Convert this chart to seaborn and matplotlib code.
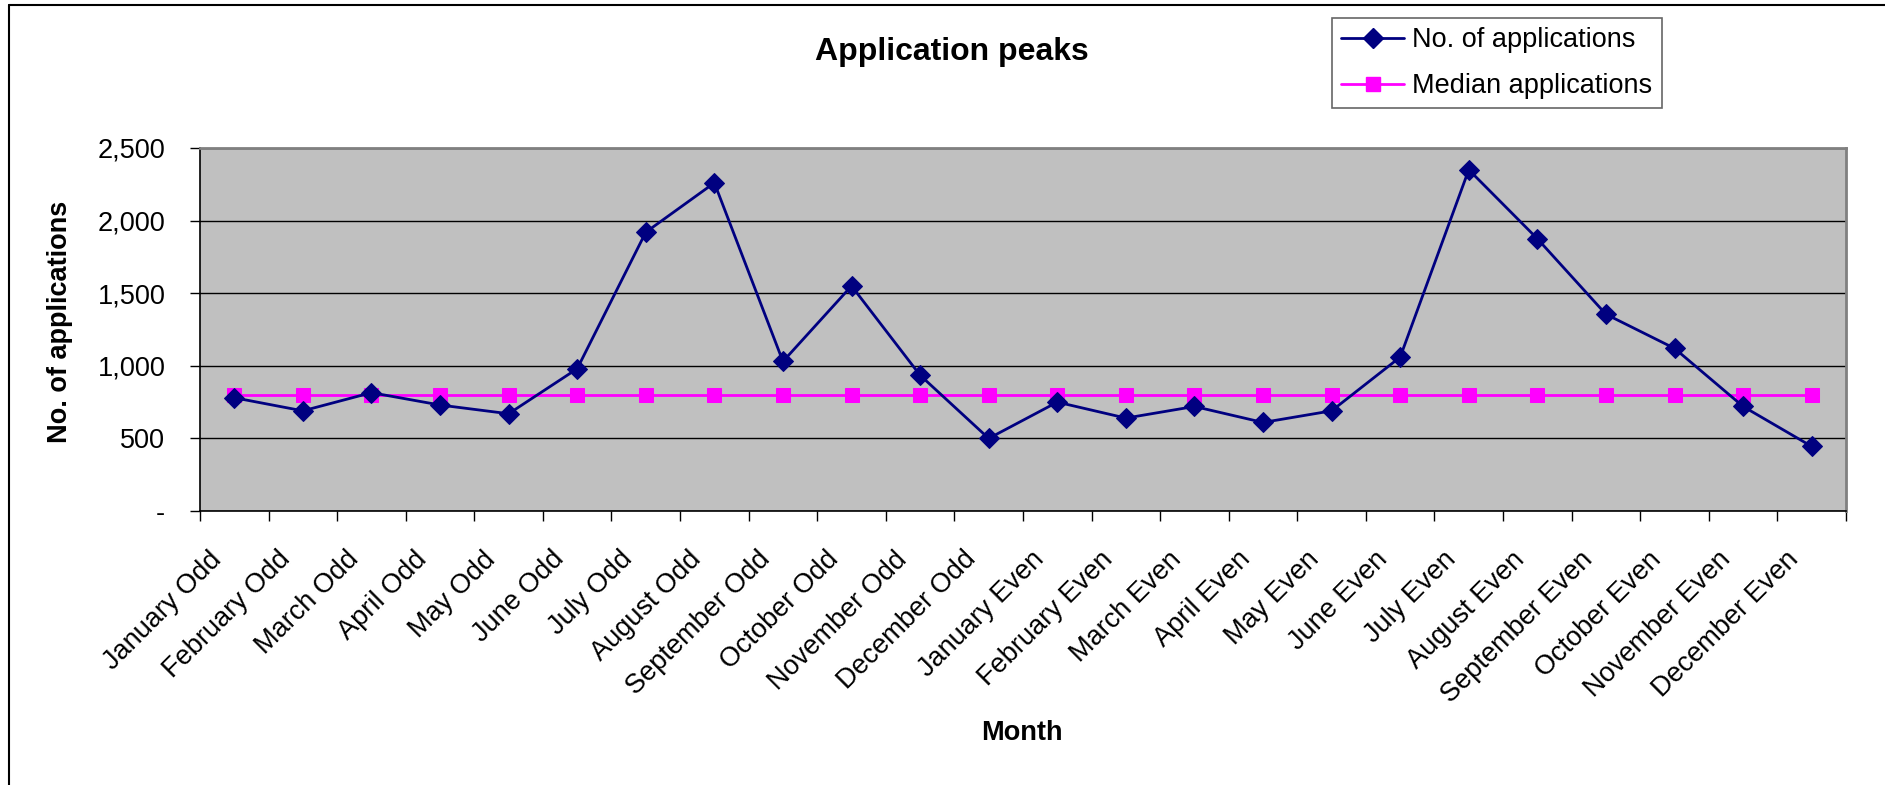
import numpy as np
import pandas as pd
import seaborn as sns
import matplotlib.pyplot as plt
from matplotlib.ticker import FuncFormatter, FixedLocator
from matplotlib.lines import Line2D
from matplotlib.transforms import ScaledTranslation

months = ['January Odd', 'February Odd', 'March Odd', 'April Odd', 'May Odd',
          'June Odd', 'July Odd', 'August Odd', 'September Odd', 'October Odd',
          'November Odd', 'December Odd', 'January Even', 'February Even',
          'March Even', 'April Even', 'May Even', 'June Even', 'July Even',
          'August Even', 'September Even', 'October Even', 'November Even',
          'December Even']
applications = [780, 690, 815, 730, 670, 980, 1920, 2260, 1030, 1550, 935, 500,
                750, 640, 720, 610, 690, 1060, 2350, 1875, 1355, 1120, 720, 445]
median_value = 800
median_apps = [median_value] * len(months)
y_ticks = [0, 500, 1000, 1500, 2000, 2500]


def fmt(v, pos):
    if v == 0:
        return '-'
    return '{:,}'.format(int(v))


def main():
    sns.set_theme(style='white')
    plt.rcParams['font.family'] = ['Liberation Sans', 'DejaVu Sans']
    plt.rcParams['text.color'] = 'black'
    plt.rcParams['axes.labelcolor'] = 'black'
    plt.rcParams['xtick.color'] = 'black'
    plt.rcParams['ytick.color'] = 'black'

    df = pd.DataFrame({'Month': months, 'apps': applications, 'median': median_apps})

    fig = plt.figure(figsize=(18.85, 7.85), dpi=100)
    ax = fig.add_axes([0.1061, 0.349, 0.8732, 0.4625])
    ax.set_facecolor('#C0C0C0')

    sns.lineplot(data=df, x='Month', y='median', ax=ax, color='#FF00FF', lw=2,
                 marker='s', markersize=10, markeredgecolor='#FF00FF', sort=False)
    sns.lineplot(data=df, x='Month', y='apps', ax=ax, color='#000080', lw=2,
                 marker='D', markersize=10, markeredgecolor='#000080', sort=False)

    ax.set_xlim(-0.5, len(months) - 0.5)
    ax.set_ylim(0, 2500)
    ax.yaxis.set_major_locator(FixedLocator(y_ticks))
    ax.yaxis.set_major_formatter(FuncFormatter(fmt))
    ax.grid(axis='y', color='black', lw=1)
    ax.set_axisbelow(True)

    ax.xaxis.set_minor_locator(FixedLocator(np.arange(len(months) + 1) - 0.5))
    ax.tick_params(axis='x', which='major', length=0, pad=16, labelsize=19.5)
    ax.tick_params(axis='x', which='minor', length=7, width=1, color='black', bottom=True)
    ax.tick_params(axis='y', length=7, width=1, color='black', left=True, pad=18,
                   labelsize=19.5)
    shift = ScaledTranslation(-0.26, -0.13, fig.dpi_scale_trans)
    for lab in ax.get_xticklabels():
        lab.set_rotation(45)
        lab.set_ha('right')
        lab.set_rotation_mode('anchor')
        lab.set_transform(lab.get_transform() + shift)

    for s in ['left', 'bottom']:
        ax.spines[s].set_color('black')
        ax.spines[s].set_linewidth(1.2)
    for s in ['top', 'right']:
        ax.spines[s].set_color('#808080')
        ax.spines[s].set_linewidth(2)

    ax.set_xlabel('Month', fontsize=19.5, fontweight='bold')
    ax.xaxis.set_label_coords(0.4994, -0.611)
    ax.xaxis.label.set_va('center')
    ax.set_ylabel('No. of applications', fontsize=19.5, fontweight='bold')
    ax.yaxis.set_label_coords(-0.085, 0.52)
    ax.yaxis.label.set_va('center')

    fig.text(0.505, 1 - 52 / 785, 'Application peaks', fontsize=23,
             fontweight='bold', ha='center', va='center')

    handles = [Line2D([], [], color='#000080', lw=2, marker='D', markersize=10),
               Line2D([], [], color='#FF00FF', lw=2, marker='s', markersize=10)]
    leg = fig.legend(handles, ['No. of applications', 'Median applications'],
                     loc='upper left', bbox_to_anchor=(1332 / 1885, 1 - 18 / 785),
                     fontsize=19.5, frameon=True, fancybox=False, handlelength=2.3,
                     borderpad=0.35, labelspacing=0.72, handletextpad=0.3,
                     borderaxespad=0)
    leg.get_frame().set_edgecolor('#404040')
    leg.get_frame().set_linewidth(1.2)

    # chart border (top and left)
    fig.add_artist(Line2D([9 / 1885, 1], [1 - 5 / 785, 1 - 5 / 785],
                          transform=fig.transFigure, color='black', lw=1.5))
    fig.add_artist(Line2D([9 / 1885, 9 / 1885], [0, 1 - 5 / 785],
                          transform=fig.transFigure, color='black', lw=1.5))

    fig.savefig('out.png', dpi=100)


if __name__ == "__main__":
    main()
